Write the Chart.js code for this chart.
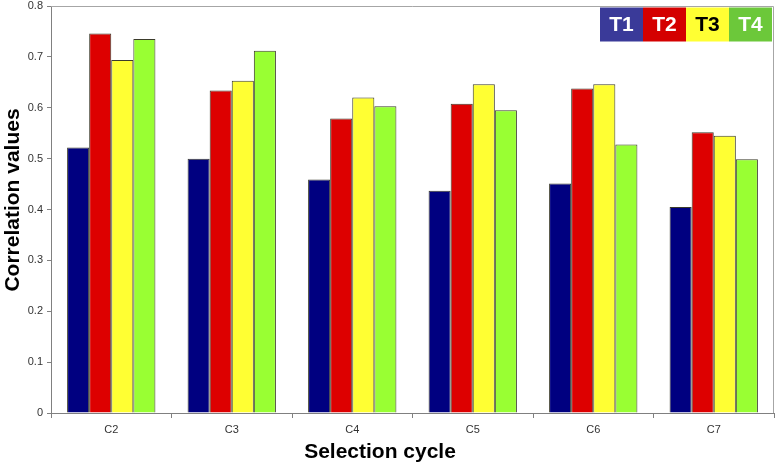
<!DOCTYPE html>
<html>
<head>
<meta charset="utf-8">
<script src="https://cdn.jsdelivr.net/npm/chart.js@4/dist/chart.umd.min.js"></script>
<style>
  html, body { margin: 0; padding: 0; background: #fff; }
  #wrap { width: 777px; height: 464px; position: relative; }
</style>
</head>
<body>
<div id="wrap"><canvas id="chart"></canvas></div>
<script>
var cycles = ['C2', 'C3', 'C4', 'C5', 'C6', 'C7'];
var seriesNames = ['T1', 'T2', 'T3', 'T4'];
var t1 = [0.522, 0.500, 0.459, 0.437, 0.451, 0.405];
var t2 = [0.746, 0.634, 0.579, 0.608, 0.638, 0.552];
var t3 = [0.694, 0.653, 0.620, 0.646, 0.646, 0.545];
var t4 = [0.735, 0.712, 0.603, 0.595, 0.528, 0.499];
var yTickLabels = ['0', '0.1', '0.2', '0.3', '0.4', '0.5', '0.6', '0.7', '0.8'];

var barColors = ['#000080', '#DD0000', '#FFFF33', '#99FF33'];
var keyColors = ['#3A3A99', '#D40000', '#FFFF33', '#6CC83A'];
var keyText = ['#fff', '#fff', '#000', '#fff'];
var FONT = "'Liberation Sans', Arial, sans-serif";

// Excel style: light frame on top/right, custom key, titles
var decor = {
    id: 'decor',
    beforeDatasetsDraw: function (chart) {
        var a = chart.chartArea, ctx = chart.ctx;
        ctx.save();
        ctx.strokeStyle = '#a6a6a6';
        ctx.lineWidth = 1;
        ctx.beginPath();
        ctx.moveTo(a.left, a.top + 0.5);
        ctx.lineTo(a.right - 0.5, a.top + 0.5);
        ctx.lineTo(a.right - 0.5, a.bottom);
        ctx.stroke();
        ctx.restore();
    },
    afterDraw: function (chart) {
        var a = chart.chartArea, ctx = chart.ctx;
        ctx.save();
        // key boxes
        var w = 43, h = 34;
        var x0 = a.right - 2 - w * seriesNames.length, y0 = a.top + 1.5;
        ctx.font = 'bold 21px ' + FONT;
        ctx.textAlign = 'center';
        ctx.textBaseline = 'middle';
        seriesNames.forEach(function (name, i) {
            ctx.fillStyle = keyColors[i];
            ctx.fillRect(x0 + i * w, y0, w, h);
            ctx.fillStyle = keyText[i];
            ctx.fillText(name, x0 + i * w + w / 2, y0 + h / 2 + 1);
        });
        // axis titles
        ctx.fillStyle = '#000';
        ctx.font = 'bold 21px ' + FONT;
        ctx.textBaseline = 'alphabetic';
        ctx.fillText('Selection cycle', 380, 458);
        ctx.translate(18.5, 200);
        ctx.rotate(-Math.PI / 2);
        ctx.fillText('Correlation values', 0, 0);
        ctx.restore();
    }
};

new Chart(document.getElementById('chart'), {
    type: 'bar',
    data: {
        labels: cycles,
        datasets: [t1, t2, t3, t4].map(function (vals, i) {
            return {
                label: seriesNames[i],
                data: vals,
                backgroundColor: barColors[i],
                borderColor: '#3b3b2b',
                borderWidth: 1,
                borderSkipped: 'bottom',
                barPercentage: 1.0,
                categoryPercentage: 0.733
            };
        })
    },
    options: {
        responsive: true,
        maintainAspectRatio: false,
        animation: false,
        layout: { padding: { left: 0, right: 3, top: 6, bottom: 0 } },
        plugins: {
            legend: { display: false },
            tooltip: { enabled: false }
        },
        scales: {
            x: {
                afterFit: function (s) {
                    s.height = 51;
                    s.paddingLeft = 0;
                    s.paddingRight = 0;
                },
                grid: {
                    drawOnChartArea: false,
                    drawTicks: true,
                    tickLength: 5,
                    color: '#808080'
                },
                border: { color: '#808080', width: 1 },
                ticks: {
                    color: '#333',
                    padding: 5,
                    font: { family: FONT, size: 11 }
                }
            },
            y: {
                min: 0,
                max: 0.8,
                afterFit: function (s) {
                    s.width = 51;
                    s.paddingTop = 0;
                    s.paddingBottom = 0;
                },
                grid: {
                    drawOnChartArea: false,
                    drawTicks: true,
                    tickLength: 4,
                    color: '#808080'
                },
                border: { color: '#808080', width: 1 },
                ticks: {
                    stepSize: 0.1,
                    color: '#333',
                    padding: 4,
                    font: { family: FONT, size: 11 },
                    callback: function (v, i) { return yTickLabels[i]; }
                }
            }
        }
    },
    plugins: [decor]
});
</script>
</body>
</html>
